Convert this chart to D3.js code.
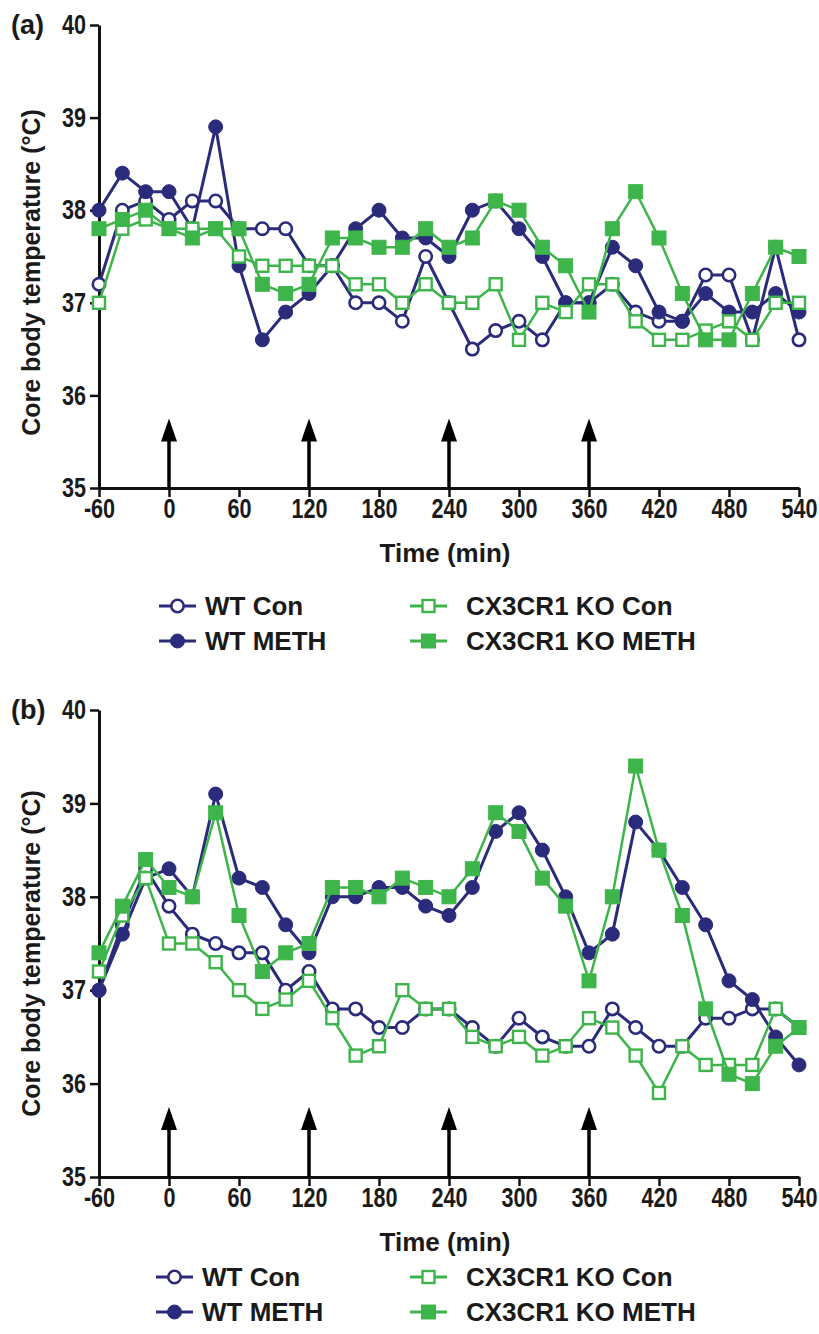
<!DOCTYPE html>
<html>
<head>
<meta charset="utf-8">
<script src="https://d3js.org/d3.v7.min.js"></script>
<style>
  body { margin: 0; background: #fff; }
  text { fill: #1a1a1a; }
  .tick text { font-family: "Liberation Sans", Arial, sans-serif; font-weight: bold; font-size: 27px; }
  .lbl { font-family: "Liberation Sans", Arial, sans-serif; font-weight: bold; }
</style>
</head>
<body>
<div id="chart"></div>
<script>

// time points (min)
var times = [-60,-40,-20,0,20,40,60,80,100,120,140,160,180,200,220,240,260,280,300,320,340,360,380,400,420,440,460,480,500,520,540];
var xTicks = [-60,0,60,120,180,240,300,360,420,480,540];
var yTicks = [35,36,37,38,39,40];
var injections = [0,120,240,360];
var seriesNames = ["WT Con","WT METH","CX3CR1 KO Con","CX3CR1 KO METH"];

// panel (a)
var wtConA   = [37.2,38.0,38.1,37.9,38.1,38.1,37.8,37.8,37.8,37.4,37.4,37.0,37.0,36.8,37.5,37.0,36.5,36.7,36.8,36.6,37.0,37.0,37.2,36.9,36.8,36.8,37.3,37.3,36.6,37.6,36.6];
var wtMethA  = [38.0,38.4,38.2,38.2,37.8,38.9,37.4,36.6,36.9,37.1,37.4,37.8,38.0,37.7,37.7,37.5,38.0,38.1,37.8,37.5,37.0,37.0,37.6,37.4,36.9,36.8,37.1,36.9,36.9,37.1,36.9];
var koConA   = [37.0,37.8,37.9,37.8,37.8,37.8,37.5,37.4,37.4,37.4,37.4,37.2,37.2,37.0,37.2,37.0,37.0,37.2,36.6,37.0,36.9,37.2,37.2,36.8,36.6,36.6,36.7,36.8,36.6,37.0,37.0];
var koMethA  = [37.8,37.9,38.0,37.8,37.7,37.8,37.8,37.2,37.1,37.2,37.7,37.7,37.6,37.6,37.8,37.6,37.7,38.1,38.0,37.6,37.4,36.9,37.8,38.2,37.7,37.1,36.6,36.6,37.1,37.6,37.5];

// panel (b)
var wtConB   = [37.0,37.7,38.3,37.9,37.6,37.5,37.4,37.4,37.0,37.2,36.8,36.8,36.6,36.6,36.8,36.8,36.6,36.4,36.7,36.5,36.4,36.4,36.8,36.6,36.4,36.4,36.7,36.7,36.8,36.8,36.6];
var wtMethB  = [37.0,37.6,38.2,38.3,38.0,39.1,38.2,38.1,37.7,37.4,38.0,38.0,38.1,38.1,37.9,37.8,38.1,38.7,38.9,38.5,38.0,37.4,37.6,38.8,38.5,38.1,37.7,37.1,36.9,36.5,36.2];
var koConB   = [37.2,37.8,38.2,37.5,37.5,37.3,37.0,36.8,36.9,37.1,36.7,36.3,36.4,37.0,36.8,36.8,36.5,36.4,36.5,36.3,36.4,36.7,36.6,36.3,35.9,36.4,36.2,36.2,36.2,36.8,36.6];
var koMethB  = [37.4,37.9,38.4,38.1,38.0,38.9,37.8,37.2,37.4,37.5,38.1,38.1,38.0,38.2,38.1,38.0,38.3,38.9,38.7,38.2,37.9,37.1,38.0,39.4,38.5,37.8,36.8,36.1,36.0,36.4,36.6];

var navy = "#2b2b7b", green = "#3db54a";
var styles = [
  {color: navy,  shape: "circle", filled: false},
  {color: navy,  shape: "circle", filled: true},
  {color: green, shape: "square", filled: false},
  {color: green, shape: "square", filled: true}
];

var narrow = 0.8;   // condensed look of the tick numbers

var svg = d3.select("#chart").append("svg")
    .attr("width", 819)
    .attr("height", 1334);

var x = d3.scaleLinear().domain([-60, 540]).range([99, 799]);

function marker(g, st, cx, cy) {
  if (st.shape == "circle") {
    g.append("circle")
      .attr("cx", cx).attr("cy", cy).attr("r", st.filled ? 7 : 6.2)
      .attr("fill", st.filled ? st.color : "#fff")
      .attr("stroke", st.color).attr("stroke-width", st.filled ? 1 : 2.6);
  } else {
    var s = st.filled ? 14 : 12;
    g.append("rect")
      .attr("x", cx - s/2).attr("y", cy - s/2).attr("width", s).attr("height", s)
      .attr("fill", st.filled ? st.color : "#fff")
      .attr("stroke", st.color).attr("stroke-width", st.filled ? 1 : 2.4);
  }
}

function drawPanel(p) {
  var y = d3.scaleLinear().domain([35, 40]).range([p.bottom, p.top]);
  var g = svg.append("g");
  var fmt = function(d) { return String(d); };

  // axes
  var ya = g.append("g")
      .attr("transform", "translate(" + x(-60) + ",0)")
      .call(d3.axisLeft(y).tickValues(yTicks).tickFormat(fmt).tickSize(9).tickSizeOuter(0).tickPadding(3));
  var xa = g.append("g")
      .attr("transform", "translate(0," + y(35) + ")")
      .call(d3.axisBottom(x).tickValues(xTicks).tickFormat(fmt).tickSize(9).tickSizeOuter(0).tickPadding(2));
  [ya, xa].forEach(function(a) {
    a.select(".domain").attr("stroke", "#111").attr("stroke-width", 3);
    a.selectAll(".tick line").attr("stroke", "#111").attr("stroke-width", 2.5);
    a.selectAll(".tick text").attr("fill", "#1a1a1a")
      .attr("transform", "scale(" + narrow + ",1)");
  });
  ya.selectAll(".tick text").attr("x", -13 / narrow);

  // injection arrows
  injections.forEach(function(t) {
    g.append("line")
      .attr("x1", x(t)).attr("x2", x(t))
      .attr("y1", y(35)).attr("y2", y(35.6))
      .attr("stroke", "#000").attr("stroke-width", 3.5);
    var tip = y(35.75);
    g.append("path")
      .attr("d", "M" + x(t) + "," + tip + "L" + (x(t) + 8) + "," + (tip + 23) + "L" + (x(t) - 8) + "," + (tip + 23) + "Z")
      .attr("fill", "#000");
  });

  // series
  p.series.forEach(function(vals, i) {
    var st = styles[i];
    var line = d3.line().x(function(d, j) { return x(times[j]); }).y(function(d) { return y(d); });
    g.append("path")
      .datum(vals)
      .attr("d", line)
      .attr("fill", "none")
      .attr("stroke", st.color)
      .attr("stroke-width", st.color == navy ? 3 : 2.5);
    var mg = g.append("g");
    vals.forEach(function(v, j) { marker(mg, st, x(times[j]), y(v)); });
  });

  // labels
  g.append("text").attr("class", "lbl")
    .attr("x", 11).attr("y", p.top + 9)
    .attr("font-size", 27)
    .text(p.label);
  g.append("text").attr("class", "lbl")
    .attr("transform", "translate(40," + ((p.top + p.bottom) / 2 + p.labShift) + ") rotate(-90)")
    .attr("text-anchor", "middle")
    .attr("font-size", 25)
    .text("Core body temperature (\u00B0C)");
  g.append("text").attr("class", "lbl")
    .attr("x", (x(-60) + x(540)) / 2 - 4).attr("y", p.bottom + 74)
    .attr("text-anchor", "middle")
    .attr("font-size", 26)
    .text("Time (min)");

  // legend
  var lx = [p.legX, 410], tx = [p.legX + 46, 466];
  seriesNames.forEach(function(name, i) {
    var col = i < 2 ? 0 : 1, row = i % 2;
    var ly = p.legY + row * 35;
    var st = styles[i];
    g.append("line")
      .attr("x1", lx[col]).attr("x2", lx[col] + 37)
      .attr("y1", ly).attr("y2", ly)
      .attr("stroke", st.color).attr("stroke-width", 3);
    marker(g, st, lx[col] + 18.5, ly);
    g.append("text").attr("class", "lbl")
      .attr("x", tx[col]).attr("y", ly + 9)
      .attr("font-size", 26)
      .text(name);
  });
}

drawPanel({top: 25, bottom: 488, label: "(a)", legY: 606, legX: 159, labShift: 16,
           series: [wtConA, wtMethA, koConA, koMethA]});
drawPanel({top: 710, bottom: 1177, label: "(b)", legY: 1277, legX: 156, labShift: 10,
           series: [wtConB, wtMethB, koConB, koMethB]});

</script>
</body>
</html>
